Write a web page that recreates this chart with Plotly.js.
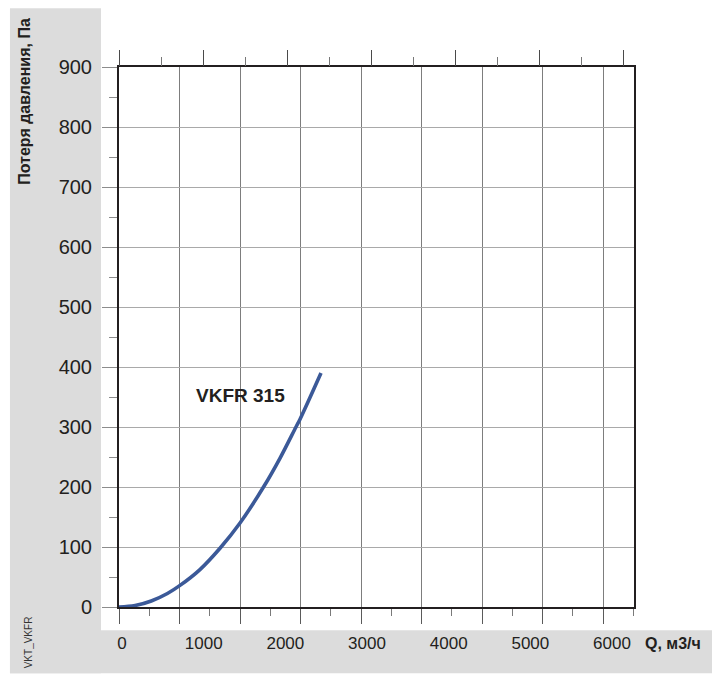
<!DOCTYPE html>
<html>
<head>
<meta charset="utf-8">
<script src="https://cdn.plot.ly/plotly-3.0.1.min.js"></script>
<style>
html,body{margin:0;padding:0;background:#fff;}
#chart{width:721px;height:675px;}
</style>
</head>
<body>
<div id="chart"></div>
<script>
// Data
var seriesName = "VKFR 315";
var flowQ = [0, 200, 400, 600, 756, 1000, 1252, 1500, 1801, 2000, 2194, 2244, 2504]; // м3/ч
var pressureLoss = [0, 2.5, 10, 22.5, 36, 62, 98, 140, 202, 249, 300, 313, 390]; // Па
var xTickValues = [0, 1000, 2000, 3000, 4000, 5000, 6000];
var xTickLabels = ["0", "1000", "2000", "3000", "4000", "5000", "6000"];
var yTitle = "Потеря давления, Па";
var xTitle = "Q, м3/ч";
var codeLabel = "VKT_VKFR";

var dark = "#231f20";
var gray = "#dcdcdc";

var trace = {
  x: flowQ, y: pressureLoss, type: "scatter", mode: "lines",
  line: {color: "#3b5998", width: 3.6, shape: "spline", smoothing: 1},
  xaxis: "x", yaxis: "y", hoverinfo: "skip", showlegend: false
};
// empty traces so that the overlay axes (top ticks, bottom labels) are drawn
var topAxisTrace = {x: [], y: [], type: "scatter", mode: "lines", xaxis: "x2", yaxis: "y", showlegend: false, hoverinfo: "skip"};
var labelAxisTrace = {x: [], y: [], type: "scatter", mode: "lines", xaxis: "x3", yaxis: "y", showlegend: false, hoverinfo: "skip"};

var layout = {
  width: 721, height: 675,
  margin: {l: 119, r: 87, t: 67, b: 68, pad: 0},
  paper_bgcolor: "#ffffff", plot_bgcolor: "#ffffff",
  showlegend: false,
  font: {family: "Liberation Sans, Arial, sans-serif", color: dark},
  xaxis: {
    range: [0, 6384], tickmode: "linear", tick0: 0, dtick: 750,
    showgrid: true, gridcolor: "#7d7d7d", gridwidth: 1,
    ticks: "outside", ticklen: 15, tickcolor: "#5a5a5a", tickwidth: 1,
    minor: {tickmode: "linear", tick0: 0, dtick: 375, ticks: "outside", ticklen: 7, tickcolor: "#7a7a7a", tickwidth: 1, showgrid: false},
    showticklabels: false,
    showline: true, linecolor: dark, linewidth: 2, mirror: true,
    zeroline: false, fixedrange: true
  },
  xaxis2: {
    overlaying: "x", side: "top", anchor: "y",
    range: [0, 6131], tickmode: "linear", tick0: 0, dtick: 1000,
    ticks: "outside", ticklen: 16, tickcolor: "#4a4a4a", tickwidth: 1,
    minor: {tickmode: "linear", tick0: 0, dtick: 500, ticks: "outside", ticklen: 9, tickcolor: "#777", tickwidth: 1, showgrid: false},
    showgrid: false, showticklabels: false, showline: false, zeroline: false, fixedrange: true
  },
  xaxis3: {
    overlaying: "x", side: "bottom", anchor: "y",
    range: [-37, 6269], tickmode: "array", tickvals: xTickValues, ticktext: xTickLabels,
    ticks: "", showgrid: false, showline: false, zeroline: false,
    ticklabelstandoff: 24, fixedrange: true,
    tickfont: {family: "Liberation Sans, Arial, sans-serif", size: 17, color: dark}
  },
  yaxis: {
    range: [0, 900], tickmode: "linear", tick0: 0, dtick: 100,
    showgrid: true, gridcolor: "#a9a9a9", gridwidth: 1,
    ticks: "outside", ticklen: 15, tickcolor: "#8c8c8c", tickwidth: 1,
    minor: {tickmode: "linear", tick0: 0, dtick: 50, ticks: "outside", ticklen: 8, tickcolor: "#8c8c8c", tickwidth: 1, showgrid: false},
    showline: true, linecolor: dark, linewidth: 2, mirror: true,
    zeroline: false, ticklabelstandoff: 6,
    tickfont: {family: "Liberation Sans, Arial, sans-serif", size: 20, color: dark},
    fixedrange: true
  },
  shapes: [
    {type: "rect", xref: "paper", yref: "paper", x0: -0.2117, x1: -0.035, y0: -0.1228, y1: 1.1087, fillcolor: gray, line: {width: 0}, layer: "below"},
    {type: "rect", xref: "paper", yref: "paper", x0: -0.2117, x1: 1.1515, y0: -0.1228, y1: -0.0431, fillcolor: gray, line: {width: 0}, layer: "below"}
  ],
  annotations: [
    {text: yTitle, xref: "paper", yref: "paper", x: -0.1825, y: 0.9356, xanchor: "center", yanchor: "middle",
     textangle: -90, showarrow: false, font: {family: "Liberation Sans, Arial, sans-serif", size: 16, color: dark, weight: "bold"}},
    {text: xTitle, xref: "paper", yref: "paper", x: 1.0757, y: -0.0672, xanchor: "center", yanchor: "middle",
     showarrow: false, font: {family: "Liberation Sans, Arial, sans-serif", size: 16, color: dark, weight: "bold"}},
    {text: codeLabel, xref: "paper", yref: "paper", x: -0.1767, y: -0.0654, xanchor: "center", yanchor: "middle",
     textangle: -90, showarrow: false, font: {family: "Liberation Sans, Arial, sans-serif", size: 10, color: "#333"}},
    {text: seriesName, xref: "x", yref: "y", x: 1500, y: 353, xanchor: "center", yanchor: "middle",
     showarrow: false, font: {family: "Liberation Sans, Arial, sans-serif", size: 19, color: dark, weight: "bold"}}
  ]
};

Plotly.newPlot("chart", [trace, topAxisTrace, labelAxisTrace], layout, {staticPlot: true, displayModeBar: false});
</script>
</body>
</html>
